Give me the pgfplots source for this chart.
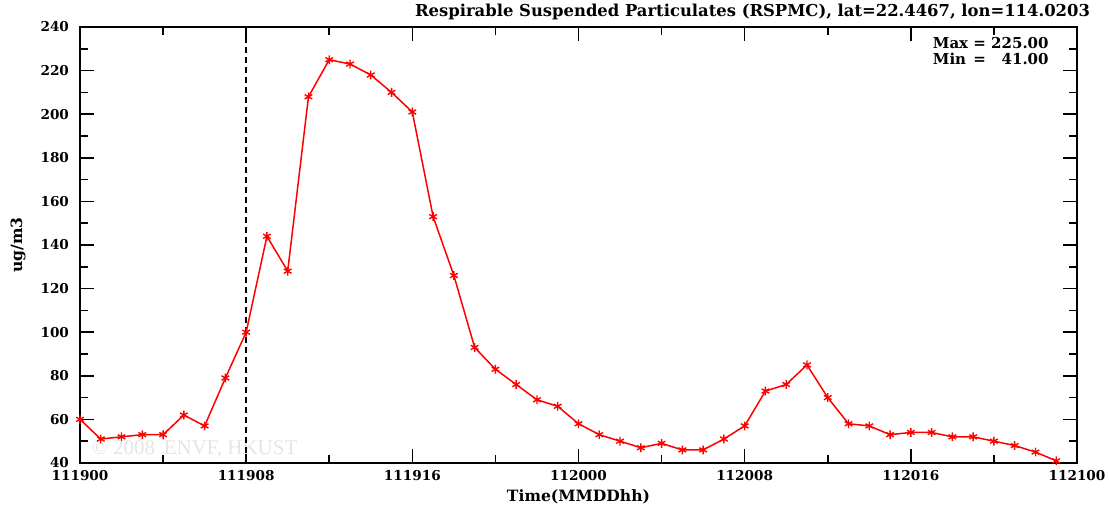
\documentclass[border=0pt]{standalone}
\usepackage{fontspec}
\setmainfont{DejaVu Serif}
\newfontfamily\wmfont{Liberation Serif}
\usepackage{pgfplots}
\pgfplotsset{compat=1.18}
\begin{document}
\begin{tikzpicture}
\begin{axis}[
  scale only axis,
  width=498.5pt, height=218pt,
  xmin=0, xmax=48, ymin=40, ymax=240,
  xtick={0,8,...,48},
  xticklabels={111900,111908,111916,112000,112008,112016,112100},
  minor xtick={4,12,...,44},
  ytick={40,60,...,240},
  minor ytick={50,70,...,230},
  tick align=inside,
  major tick length=7pt,
  minor tick length=4pt,
  axis line style={line width=1pt},
  every tick/.style={line width=0.8pt, black},
  /pgf/number format/assume math mode=true,
  ticklabel style={font=\bfseries\fontsize{6.8}{8}\selectfont},
  yticklabel style={xshift=-2pt},
  xlabel={Time(MMDDhh)},
  ylabel={ug/m3},
  xlabel style={at={(rel axis cs:0.5,0)}, anchor=center, yshift=-17pt, font=\bfseries\fontsize{7.8}{8}\selectfont},
  ylabel style={at={([xshift=-31pt]rel axis cs:0,0.5)}, anchor=center, font=\bfseries\fontsize{7.8}{8}\selectfont},
  clip=false,
]
\node[anchor=base east, font=\bfseries\fontsize{8.2}{9}\selectfont] at (rel axis cs:1,1) [xshift=10pt, yshift=5pt] {Respirable Suspended Particulates (RSPMC), lat=22.4467, lon=114.0203};
\node[anchor=north east, font=\bfseries\fontsize{7.5}{7.5}\selectfont, inner sep=0pt] at (rel axis cs:1,1) [xshift=-14pt, yshift=-5pt] {\begin{tabular}{@{}l@{ = }r@{}}Max & 225.00\\ Min & 41.00\end{tabular}};
\node[anchor=west, font=\wmfont\fontsize{10.5}{10.5}\selectfont, text=black!10, inner sep=0pt] at (axis cs:0.55,46.5) {\textcopyright{} 2008\, ENVF, HKUST};
\addplot[black, dashed, line width=0.75pt, dash pattern=on 3pt off 2pt] coordinates {(8,40) (8,240)};
\addplot[red, line width=0.75pt, mark=asterisk, mark size=2.2pt, mark options={line width=0.7pt}] coordinates {
(0,60) (1,51) (2,52) (3,53) (4,53) (5,62) (6,57) (7,79) (8,100) (9,144)
(10,128) (11,208) (12,225) (13,223) (14,218) (15,210) (16,201) (17,153) (18,126) (19,93)
(20,83) (21,76) (22,69) (23,66) (24,58) (25,53) (26,50) (27,47) (28,49) (29,46)
(30,46) (31,51) (32,57) (33,73) (34,76) (35,85) (36,70) (37,58) (38,57) (39,53)
(40,54) (41,54) (42,52) (43,52) (44,50) (45,48) (46,45) (47,41)
};
\end{axis}
\pgfresetboundingbox
\path (-40pt,-21.5pt) rectangle (514.5pt,231.5pt);
\end{tikzpicture}
\end{document}
